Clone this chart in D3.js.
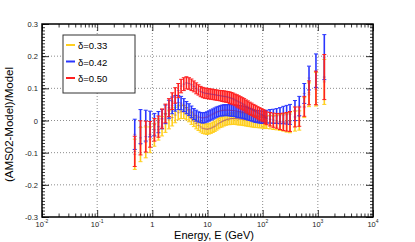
<!DOCTYPE html>
<html>
<head>
<meta charset="utf-8">
<script src="https://cdn.jsdelivr.net/npm/d3@7"></script>
<style>
body { margin: 0; background: #fff; }
text { font-family: "Liberation Sans", Arial, sans-serif; }
</style>
</head>
<body>
<div id="chart"></div>
<script>
let margin = {top: 24, right: 42, left: 42, bottom: 25};
let width = 415 - margin.left - margin.right;
let height = 242 - margin.top - margin.bottom;

// energy bins (GeV)
const energy = [0.48, 0.61, 0.76, 0.91, 1.09, 1.29, 1.50, 1.73, 2.00, 2.29, 2.60, 2.95,
    3.32, 3.72, 4.15, 4.62, 5.12, 5.66, 6.24, 6.86, 7.52, 8.22, 8.97, 9.77,
    10.6, 11.5, 12.5, 13.5, 14.6, 15.8, 17.1, 18.5, 20.0, 21.6, 23.3, 25.2, 27.2, 29.3,
    31.6, 34.1, 36.8, 39.7, 42.8, 46.2, 49.9, 53.9, 58.3, 63.1, 68.4, 74.2, 80.6, 87.6, 95.3,
    103, 110, 118, 136, 156, 179, 206, 237, 272, 313, 385, 461, 568, 692, 925, 1310];

// error bar half-size
const errors = [0.047, 0.053, 0.048, 0.040, 0.035, 0.033, 0.030, 0.029, 0.028, 0.026, 0.024, 0.022,
    0.021, 0.020, 0.019, 0.018, 0.018, 0.017, 0.017, 0.016, 0.016, 0.016, 0.016, 0.016,
    0.016, 0.016, 0.016, 0.016, 0.016, 0.016, 0.016, 0.017, 0.017, 0.017, 0.017, 0.018, 0.018, 0.018,
    0.018, 0.019, 0.019, 0.019, 0.019, 0.019, 0.019, 0.019, 0.019, 0.019, 0.019, 0.019, 0.019, 0.019, 0.019,
    0.019, 0.020, 0.020, 0.021, 0.022, 0.023, 0.025, 0.027, 0.029, 0.031, 0.031, 0.030, 0.031, 0.037, 0.052, 0.070];

const delta033 = [-0.105, -0.075, -0.068, -0.060, -0.045, -0.028, -0.018, -0.008, 0.002, 0.009, 0.017, 0.024,
    0.027, 0.026, 0.021, 0.014, 0.006, -0.002, -0.009, -0.015, -0.020, -0.024, -0.026, -0.027,
    -0.026, -0.024, -0.021, -0.018, -0.014, -0.010, -0.006, -0.003, 0.000, 0.002, 0.004, 0.005, 0.006, 0.006,
    0.006, 0.006, 0.005, 0.005, 0.004, 0.003, 0.002, 0.001, 0.000, -0.001, -0.002, -0.003, -0.003, -0.004, -0.004,
    -0.005, -0.005, -0.005, -0.005, -0.006, -0.006, -0.006, -0.006, -0.007, -0.007, -0.002, 0.000, 0.040, 0.080, 0.097, 0.120];

const delta042 = [-0.043, -0.019, -0.016, -0.011, -0.013, -0.005, 0.004, 0.019, 0.035, 0.047, 0.053, 0.056,
    0.054, 0.048, 0.040, 0.034, 0.027, 0.020, 0.015, 0.011, 0.009, 0.008, 0.009, 0.011,
    0.014, 0.017, 0.020, 0.023, 0.026, 0.028, 0.030, 0.031, 0.032, 0.032, 0.032, 0.032, 0.031, 0.031,
    0.030, 0.029, 0.028, 0.027, 0.026, 0.025, 0.023, 0.021, 0.019, 0.017, 0.015, 0.013, 0.012, 0.011, 0.010,
    0.010, 0.011, 0.012, 0.013, 0.013, 0.014, 0.015, 0.017, 0.018, 0.019, 0.031, 0.045, 0.084, 0.132, 0.155, 0.197];

const delta050 = [-0.096, -0.054, -0.050, -0.043, -0.029, -0.019, 0.006, 0.022, 0.040, 0.060, 0.078, 0.093,
    0.107, 0.113, 0.117, 0.115, 0.111, 0.106, 0.100, 0.095, 0.090, 0.087, 0.085, 0.084,
    0.083, 0.082, 0.081, 0.080, 0.079, 0.078, 0.077, 0.076, 0.075, 0.074, 0.073, 0.071, 0.069, 0.067,
    0.064, 0.061, 0.058, 0.055, 0.052, 0.049, 0.045, 0.042, 0.038, 0.035, 0.031, 0.028, 0.024, 0.021, 0.018,
    0.015, 0.010, 0.007, 0.004, 0.001, -0.001, -0.003, -0.004, -0.004, -0.003, 0.011, 0.012, 0.044, 0.086, 0.101, 0.135];

const series = [
    {name: "δ=0.33", color: "#ffcf1f", values: delta033},
    {name: "δ=0.42", color: "#2a36ff", values: delta042},
    {name: "δ=0.50", color: "#ff2020", values: delta050}
];

const xMajor = [0.01, 0.1, 1, 10, 100, 1000, 10000];
const xLabels = [["10", "-2"], ["10", "-1"], ["1", ""], ["10", ""], ["10", "2"], ["10", "3"], ["10", "4"]];
const yMajor = [-0.3, -0.2, -0.1, 0, 0.1, 0.2, 0.3];
const yLabels = ["-0.3", "-0.2", "-0.1", "0", "0.1", "0.2", "0.3"];

let svg = d3.select("#chart")
    .append("svg")
    .attr("width", 415)
    .attr("height", 242);

let chart = svg.append("g")
    .attr("transform", "translate(" + margin.left + ", " + margin.top + ")");

let x = d3.scaleLog()
    .domain([0.01, 10000])
    .range([0, width]);

let y = d3.scaleLinear()
    .domain([-0.3, 0.3])
    .range([height, 0]);

// minor tick values
let xMinor = [];
xMajor.slice(0, -1).forEach(m => {
    [2, 3, 4, 5, 6, 7, 8, 9].forEach(k => xMinor.push(m * k));
});
let yMinor = d3.range(-30, 31).map(i => i / 100);

// grid
chart.append("g")
    .selectAll("line")
    .data(xMajor.slice(1, -1))
    .enter()
    .append("line")
    .attr("x1", d => x(d)).attr("x2", d => x(d))
    .attr("y1", 0).attr("y2", height)
    .attr("stroke", "#8c8c8c")
    .attr("stroke-dasharray", "1,2");

chart.append("g")
    .selectAll("line")
    .data(yMajor.slice(1, -1))
    .enter()
    .append("line")
    .attr("x1", 0).attr("x2", width)
    .attr("y1", d => y(d)).attr("y2", d => y(d))
    .attr("stroke", "#8c8c8c")
    .attr("stroke-dasharray", "1,2");

// error bars
series.forEach(s => {
    let g = chart.append("g")
        .attr("stroke", s.color)
        .attr("stroke-width", 1.6);

    let pts = energy.map((e, i) => ({e: e, v: s.values[i], err: errors[i]}));

    g.selectAll(".bar")
        .data(pts)
        .enter()
        .append("line")
        .attr("x1", d => x(d.e)).attr("x2", d => x(d.e))
        .attr("y1", d => y(d.v + d.err))
        .attr("y2", d => y(d.v - d.err));

    g.selectAll(".capTop")
        .data(pts)
        .enter()
        .append("line")
        .attr("stroke-width", 1)
        .attr("x1", d => x(d.e) - 2).attr("x2", d => x(d.e) + 2)
        .attr("y1", d => y(d.v + d.err)).attr("y2", d => y(d.v + d.err));

    g.selectAll(".capBottom")
        .data(pts)
        .enter()
        .append("line")
        .attr("stroke-width", 1)
        .attr("x1", d => x(d.e) - 2).attr("x2", d => x(d.e) + 2)
        .attr("y1", d => y(d.v - d.err)).attr("y2", d => y(d.v - d.err));

    g.selectAll(".mark")
        .data(pts)
        .enter()
        .append("line")
        .attr("stroke-width", 1)
        .attr("stroke-opacity", 0.45)
        .attr("stroke", "#802080")
        .attr("x1", d => x(d.e) - 1.5).attr("x2", d => x(d.e) + 1.5)
        .attr("y1", d => y(d.v)).attr("y2", d => y(d.v));
});

// axes, ticks pointing inward on all four sides
function styleAxis(sel) {
    sel.select(".domain").remove();
    sel.selectAll("line").attr("stroke", "#000").attr("stroke-width", 0.8);
    sel.selectAll("text").remove();
}

chart.append("g")
    .attr("transform", "translate(0," + height + ")")
    .call(d3.axisBottom(x).tickValues(xMajor).tickSizeInner(-7).tickSizeOuter(0))
    .call(styleAxis);
chart.append("g")
    .attr("transform", "translate(0," + height + ")")
    .call(d3.axisBottom(x).tickValues(xMinor).tickSizeInner(-3.5).tickSizeOuter(0))
    .call(styleAxis);
chart.append("g")
    .call(d3.axisTop(x).tickValues(xMajor).tickSizeInner(-7).tickSizeOuter(0))
    .call(styleAxis);
chart.append("g")
    .call(d3.axisTop(x).tickValues(xMinor).tickSizeInner(-3.5).tickSizeOuter(0))
    .call(styleAxis);

chart.append("g")
    .call(d3.axisLeft(y).tickValues(yMajor).tickSizeInner(-7).tickSizeOuter(0))
    .call(styleAxis);
chart.append("g")
    .call(d3.axisLeft(y).tickValues(yMinor).tickSizeInner(-3).tickSizeOuter(0))
    .call(styleAxis);
chart.append("g")
    .attr("transform", "translate(" + width + ",0)")
    .call(d3.axisRight(y).tickValues(yMajor).tickSizeInner(-7).tickSizeOuter(0))
    .call(styleAxis);
chart.append("g")
    .attr("transform", "translate(" + width + ",0)")
    .call(d3.axisRight(y).tickValues(yMinor).tickSizeInner(-3).tickSizeOuter(0))
    .call(styleAxis);

// frame
chart.append("rect")
    .attr("width", width)
    .attr("height", height)
    .attr("fill", "none")
    .attr("stroke", "#000")
    .attr("stroke-width", 1.5);

// tick labels
chart.append("g")
    .selectAll("text")
    .data(yMajor)
    .enter()
    .append("text")
    .attr("x", -4)
    .attr("y", d => y(d) + 3)
    .attr("text-anchor", "end")
    .attr("font-size", 7.5)
    .attr("fill", "#222")
    .text((d, i) => yLabels[i]);

let xl = chart.append("g")
    .selectAll("text")
    .data(xMajor)
    .enter()
    .append("text")
    .attr("x", d => x(d))
    .attr("y", height + 9.5)
    .attr("text-anchor", "middle")
    .attr("font-size", 7.5)
    .attr("fill", "#222");
xl.append("tspan").text((d, i) => xLabels[i][0]);
xl.append("tspan")
    .attr("font-size", 5)
    .attr("dy", -4)
    .text((d, i) => xLabels[i][1]);

// axis titles
chart.append("text")
    .attr("x", 212)
    .attr("y", height + 22)
    .attr("text-anchor", "end")
    .attr("font-size", 11)
    .text("Energy, E (GeV)");

chart.append("text")
    .attr("transform", "translate(" + (-29) + "," + (height / 2 + 4) + ") rotate(-90)")
    .attr("text-anchor", "middle")
    .attr("font-size", 11.5)
    .text("(AMS02-Model)/Model");

// legend
let legend = chart.append("g")
    .attr("transform", "translate(21, 11)");

legend.append("rect")
    .attr("width", 72)
    .attr("height", 58)
    .attr("fill", "#fff")
    .attr("stroke", "#333")
    .attr("stroke-width", 1);

let entries = legend.selectAll(".entry")
    .data(series)
    .enter()
    .append("g")
    .attr("transform", (d, i) => "translate(0," + (10 + i * 16.5) + ")");

entries.append("line")
    .attr("x1", 3).attr("x2", 12)
    .attr("y1", 0).attr("y2", 0)
    .attr("stroke", d => d.color)
    .attr("stroke-width", 2);

entries.append("text")
    .attr("x", 15)
    .attr("y", 4)
    .attr("font-size", 9.5)
    .text(d => d.name);
</script>
</body>
</html>
